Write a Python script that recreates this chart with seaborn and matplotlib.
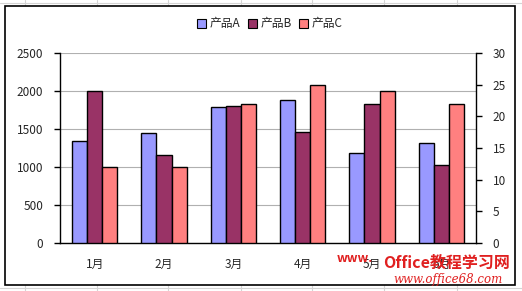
import matplotlib
matplotlib.use("Agg")
import matplotlib.pyplot as plt
import seaborn as sns
import pandas as pd
from matplotlib.patches import Rectangle
from matplotlib.lines import Line2D

months = ["1月", "2月", "3月", "4月", "5月", "6月"]
series_names = ["产品A", "产品B", "产品C"]
prod_a = [1340, 1450, 1790, 1880, 1180, 1310]
prod_b = [2000, 1160, 1800, 1460, 1830, 1020]
prod_c = [1000, 1000, 1830, 2080, 2000, 1830]
left_ticks = [0, 500, 1000, 1500, 2000, 2500]
right_ticks = [0, 5, 10, 15, 20, 25, 30]
colors = ["#9999FF", "#993366", "#FF8080"]

sns.set_style("white")
plt.rcParams["font.family"] = ["Noto Sans CJK SC", "DejaVu Sans"]

df = pd.DataFrame({
    "month": months * 3,
    "series": [series_names[0]] * 6 + [series_names[1]] * 6 + [series_names[2]] * 6,
    "value": prod_a + prod_b + prod_c,
})

W, H = 522, 291
fig = plt.figure(figsize=(W / 100, H / 100), dpi=100)
fig.patch.set_facecolor("white")

# spreadsheet grid in background
for x in [25, 97, 168, 241, 312, 384, 457]:
    fig.add_artist(Line2D([x / W, x / W], [0, 1], color="#D4D4D4", lw=0.8, zorder=0))
for y in [3, 288]:
    fig.add_artist(Line2D([0, 1], [1 - y / H, 1 - y / H], color="#D4D4D4", lw=0.8, zorder=0))
# chart frame
fig.add_artist(Rectangle((5 / W, 1 - 285 / H), (515 - 5) / W, (285 - 6) / H,
                         facecolor="white", edgecolor="black", lw=1.2, zorder=1))

l, r, t, b = 60, 476, 53, 243
ax = fig.add_axes([l / W, 1 - b / H, (r - l) / W, (b - t) / H], zorder=2)
ax.set_facecolor("none")
sns.barplot(data=df, x="month", y="value", hue="series", palette=colors,
            saturation=1, width=0.65, edgecolor="black", linewidth=1.0, ax=ax,
            legend=False, errorbar=None, zorder=3)
ax.set_ylim(0, 2500)
ax.set_xlim(-0.5, 5.5)
ax.set_yticks(left_ticks)
ax.set_xlabel("")
ax.set_ylabel("")
ax.yaxis.grid(True, color="#B0B0B0", lw=0.8, zorder=0)
ax.set_axisbelow(True)
for s in ["top", "right"]:
    ax.spines[s].set_visible(False)
for s in ["left", "bottom"]:
    ax.spines[s].set_color("black")
    ax.spines[s].set_linewidth(1.0)
ax.set_xticks(range(6))
ax.set_xticklabels(months)
ax.set_xticks([i + 0.5 for i in range(-1, 6)], minor=True)
ax.tick_params(axis="x", which="major", length=0, pad=11, labelsize=8.5)
ax.tick_params(axis="x", which="minor", length=4, width=1, direction="out", color="black")
ax.tick_params(axis="y", length=4, width=1, direction="out", color="black", labelsize=8.5, pad=8)

ax2 = ax.twinx()
ax2.set_ylim(0, 30)
ax2.set_yticks(right_ticks)
for s in ["top", "left", "bottom"]:
    ax2.spines[s].set_visible(False)
ax2.spines["right"].set_color("black")
ax2.spines["right"].set_linewidth(1.0)
ax2.tick_params(axis="y", length=4, width=1, direction="out", color="black", labelsize=8.5, pad=8)

# legend
handles = [Rectangle((0, 0), 1, 1, facecolor=c, edgecolor="black", lw=0.8) for c in colors]
fig.legend(handles, series_names, loc="center", bbox_to_anchor=(270 / W, 1 - 24 / H),
           ncol=3, frameon=False, fontsize=8.5, handlelength=0.8, handleheight=0.8,
           handletextpad=0.3, columnspacing=0.6)

# watermark
fig.text(337 / W, 1 - 258 / H, "www.", color="#E02020", fontsize=9, fontweight="bold",
         ha="left", va="center", zorder=5)
fig.text(383 / W, 1 - 263 / H, "Office教程学习网", color="#E02020", fontsize=11.5,
         fontweight="bold", fontstyle="italic", ha="left", va="center", zorder=5)
fig.text(393 / W, 1 - 279 / H, "www.office68.com", color="#E02020", fontsize=8.5,
         fontstyle="italic", family=["DejaVu Serif"], ha="left", va="center", zorder=5)

fig.savefig("out.png", dpi=100)
